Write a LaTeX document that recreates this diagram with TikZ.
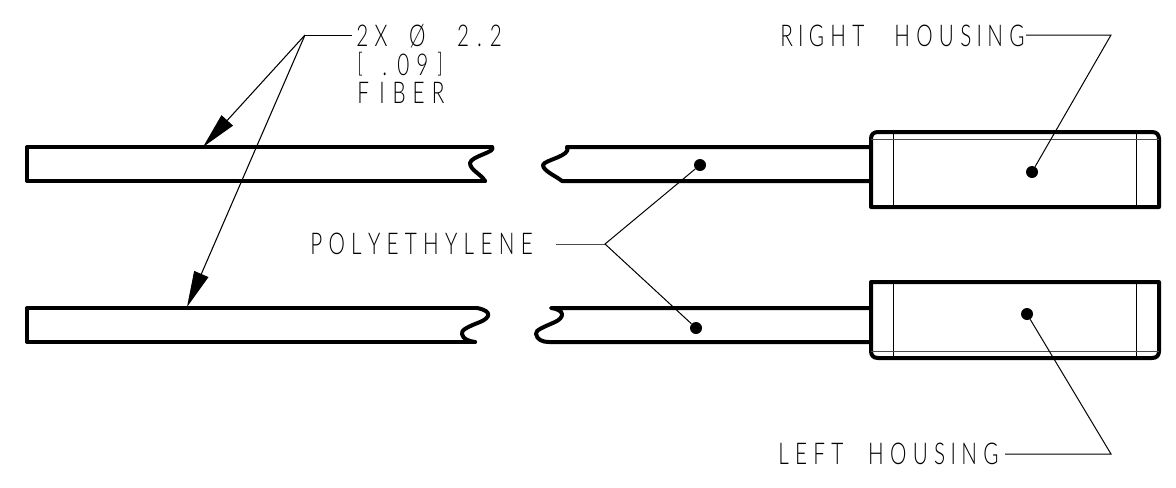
\documentclass[tikz,border=0pt]{standalone}
\usepackage{fontspec}
\setmainfont{Lato}[UprightFont=* Light,FakeStretch=0.69,LetterSpace=21,Ligatures=NoCommon,Kerning=Off]
\usetikzlibrary{arrows.meta}
\newcommand{\nrw}{\hspace{0.178em}}
\newcommand{\brk}[1]{\raisebox{2pt}{\fontsize{20pt}{22pt}\selectfont #1}}
\newcommand{\cell}[2]{\makebox[#1][l]{#2}}
\tikzset{
  x=0.75pt,y=-0.75pt,
  heavy/.style={line width=3pt,line join=round,line cap=round},
  thin line/.style={line width=0.75pt},
  faint/.style={line width=0.75pt,black!70},
  lbl/.style={inner sep=0pt,anchor=base west,font=\fontsize{22.5pt}{24pt}\selectfont,align=left},
  dot/.style={circle,fill=black,inner sep=0pt,minimum size=9pt},
  lead/.style={line width=0.8pt,-{Triangle[length=27pt,width=11.5pt]}},
}
\begin{document}
\begin{tikzpicture}
\useasboundingbox (0,0) rectangle (1176,487);
% labels
\node[lbl] (fa) at (356,46) {2X\hspace{0.72em}Ø\hspace{1.055em}2\hspace{.267em}.\hspace{.267em}2};
\node[lbl] (fb) at (357,75) {\cell{18.75pt}{\brk{[}}\cell{11.25pt}{.}\cell{14.25pt}{0}\cell{15.75pt}{9}\brk{]}};
\node[lbl] (fc) at (357,103) {\cell{16.5pt}{F}\cell{10pt}{I}\cell{15pt}{B}\cell{14.5pt}{E}R};
\node[lbl] (rh) at (780,46) {R\nrw I\nrw GHT\hspace{1em}HOUS\nrw I\nrw NG};
\node[lbl] (lh) at (778,464) {LEFT\hspace{0.83em}HOUS\nrw I\nrw NG};
\node[lbl] (pe) at (310,254) {POLYETHYLENE};
% anchor points
\coordinate (fj) at (305,35);
\coordinate (ft1) at (203,147);
\coordinate (ft2) at (187,307);
\coordinate (rj) at (1111,35);
\coordinate (lj) at (1111,454);
\coordinate (pj) at (605,244);
\coordinate (rs) at (1026,35);
\coordinate (ls) at (1005,454);
\coordinate (ps) at (556,244);
\coordinate (fs) at (352,35);
% dots
\node[dot] (d1) at (1032,172) {};
\node[dot] (d2) at (1027,314) {};
\node[dot] (d3) at (700,165) {};
\node[dot] (d4) at (696,328) {};
% fibers, top
\draw[heavy] (492,147) -- (27,147) -- (27,181) -- (485,181);
\draw[heavy] (492,147) .. controls (497,152) and (471,156) .. (470,163) .. controls (470,170) and (481,174) .. (485,181);
\draw[heavy] (871,147) -- (567,147) .. controls (572,156) and (544,160) .. (543,165) .. controls (543,171) and (556,176) .. (562,181) -- (871,181);
% fibers, bottom
\draw[heavy] (477,308) -- (27,308) -- (27,342) -- (475,342);
\draw[heavy] (477,308) .. controls (493,311) and (490,318) .. (480,322) .. controls (470,326) and (460,330) .. (462,334) .. controls (463,339) and (468,341) .. (475,342);
\draw[heavy] (871,308) -- (551,308) .. controls (566,310) and (564,318) .. (555,322) .. controls (544,327) and (535,330) .. (536,334) .. controls (537,340) and (543,342) .. (549,342) -- (871,342);
% housings
\draw[heavy] (871,207) -- (871,139) .. controls (871,135) and (873,132) .. (878,132) -- (1152,132) .. controls (1157,132) and (1159,135) .. (1159,139) -- (1159,207) -- cycle;
\draw[thin line] (893,132) -- (893,207) (1136,132) -- (1136,207);
\draw[faint] (871,139) -- (1159,139);
\draw[heavy] (871,282) -- (871,351) .. controls (871,355) and (873,358) .. (878,358) -- (1152,358) .. controls (1157,358) and (1159,355) .. (1159,351) -- (1159,282) -- cycle;
\draw[thin line] (893,282) -- (893,358) (1136,282) -- (1136,358);
\draw[faint] (871,351) -- (1159,351);
% leaders
\draw[thin line] (fs) -- (fj);
\draw[lead] (fj) -- (ft1);
\draw[lead] (fj) -- (ft2);
\draw[thin line] (rs) -- (rj) -- (d1);
\draw[thin line] (ls) -- (lj) -- (d2);
\draw[faint] (ps) -- (pj);
\draw[thin line] (d3) -- (pj) -- (d4);
\end{tikzpicture}
\end{document}
